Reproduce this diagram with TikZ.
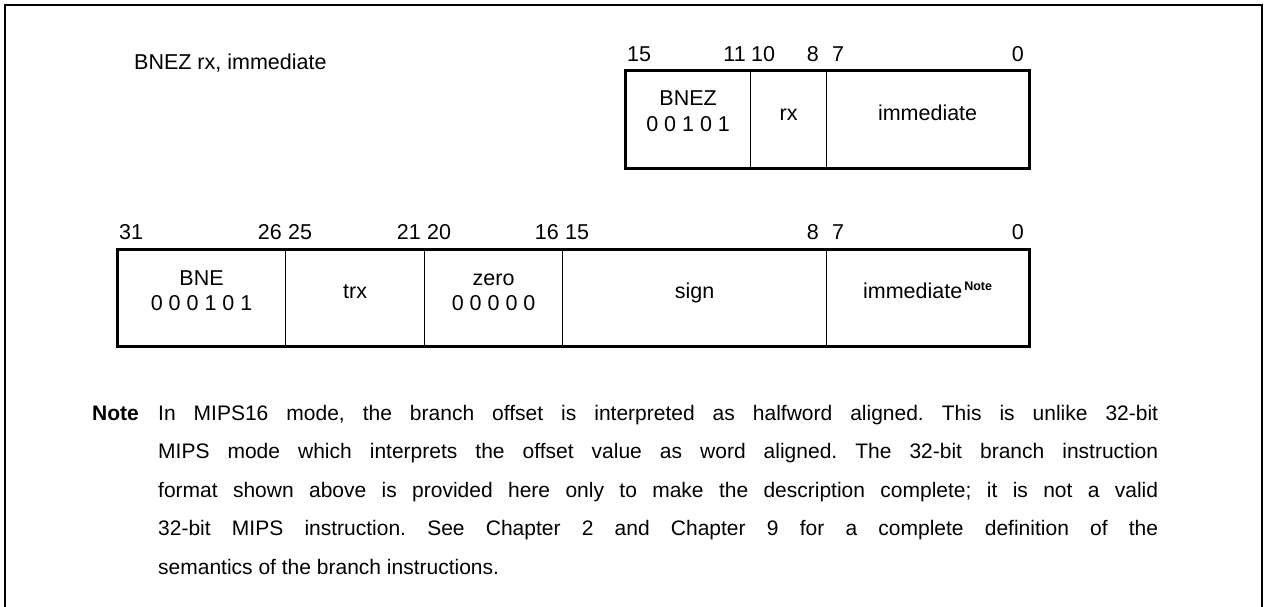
\documentclass[tikz,border=0pt]{standalone}
\usepackage{fontspec}
\setmainfont{Liberation Sans}
\begin{document}
\frenchspacing
\begin{tikzpicture}[x=1pt,y=-1pt,
  txt/.style={inner sep=0pt, font=\fontsize{21.5}{24}\selectfont},
  para/.style={inner sep=0pt, font=\fontsize{21}{24}\selectfont},
  fieldbox/.style={draw, line width=1.2pt, minimum height=96pt, inner sep=0pt, anchor=north west},
  outer/.style={line width=3pt},
  frame/.style={line width=2.5pt}]
\useasboundingbox (0,0) rectangle (1264,607);
% frame
\coordinate (fbl) at (5,610);
\coordinate (ftl) at (5,5);
\coordinate (ftr) at (1262,5);
\coordinate (fbr) at (1262,610);
\draw[frame] (fbl) -- (ftl) -- (ftr) -- (fbr);

% title
\node[txt, anchor=base west] (title) at (134,70) {BNEZ rx, immediate};

% 16-bit format
\node[fieldbox, minimum width=125pt] (t1) at (625,71) {};
\node[fieldbox, minimum width=76pt] (t2) at (750,71) {};
\node[fieldbox, minimum width=202pt] (t3) at (826,71) {};
\draw[outer] (t1.north west) rectangle (t3.south east);
\node[txt, anchor=base] (t1a) at ([yshift=-35pt]t1.north) {BNEZ};
\node[txt, anchor=base] (t1b) at ([yshift=-61pt]t1.north) {0 0 1 0 1};
\node[txt, anchor=base] (t2a) at ([yshift=-50pt]t2.north) {rx};
\node[txt, anchor=base] (t3a) at ([yshift=-50pt]t3.north) {immediate};

% bit numbers 16
\node[txt, anchor=base west] (b15) at (627,62) {15};
\node[txt, anchor=base east] (b11) at (746,62) {11};
\node[txt, anchor=base west] (b10) at (751,62) {10};
\node[txt, anchor=base east] (b8) at (819,62) {8};
\node[txt, anchor=base west] (b7) at (832,62) {7};
\node[txt, anchor=base east] (b0) at (1024,62) {0};

% 32-bit format
\node[fieldbox, minimum width=168pt] (w1) at (117,249) {};
\node[fieldbox, minimum width=139pt] (w2) at (285,249) {};
\node[fieldbox, minimum width=138pt] (w3) at (424,249) {};
\node[fieldbox, minimum width=264pt] (w4) at (562,249) {};
\node[fieldbox, minimum width=202pt] (w5) at (826,249) {};
\draw[outer] (w1.north west) rectangle (w5.south east);
\node[txt, anchor=base] (w1a) at ([yshift=-36pt]w1.north) {BNE};
\node[txt, anchor=base] (w1b) at ([yshift=-61pt]w1.north) {0 0 0 1 0 1};
\node[txt, anchor=base] (w2a) at ([yshift=-49pt]w2.north) {trx};
\node[txt, anchor=base] (w3a) at ([yshift=-36pt]w3.north) {zero};
\node[txt, anchor=base] (w3b) at ([yshift=-61pt]w3.north) {0 0 0 0 0};
\node[txt, anchor=base] (w4a) at ([yshift=-49pt]w4.north) {sign};
\node[txt, anchor=base] (w5a) at ([yshift=-49pt]w5.north) {immediate\kern2pt\raisebox{8pt}{\fontsize{12.5}{12}\selectfont\bfseries Note}};

% bit numbers 32
\node[txt, anchor=base west] (c31) at (119,239) {31};
\node[txt, anchor=base east] (c26) at (282,239) {26};
\node[txt, anchor=base west] (c25) at (288,239) {25};
\node[txt, anchor=base east] (c21) at (421,239) {21};
\node[txt, anchor=base west] (c20) at (427,239) {20};
\node[txt, anchor=base east] (c16) at (559,239) {16};
\node[txt, anchor=base west] (c15) at (565,239) {15};
\node[txt, anchor=base east] (c8) at (819,239) {8};
\node[txt, anchor=base west] (c7) at (832,239) {7};
\node[txt, anchor=base east] (c0) at (1024,239) {0};

% note
\node[para, anchor=base west, font=\fontsize{21}{24}\selectfont\bfseries] (note) at (92,420) {Note};
\node[para, anchor=base west] (n1) at (158,420) {\makebox[1000pt][s]{In MIPS16 mode, the branch offset is interpreted as halfword aligned. This is unlike 32-bit}};
\node[para, anchor=base west] (n2) at (158,458.5) {\makebox[1000pt][s]{MIPS mode which interprets the offset value as word aligned. The 32-bit branch instruction}};
\node[para, anchor=base west] (n3) at (158,497) {\makebox[1000pt][s]{format shown above is provided here only to make the description complete; it is not a valid}};
\node[para, anchor=base west] (n4) at (158,535.5) {\makebox[1000pt][s]{32-bit MIPS instruction. See Chapter 2 and Chapter 9 for a complete definition of the}};
\node[para, anchor=base west] (n5) at (158,574) {semantics of the branch instructions.};
\end{tikzpicture}
\end{document}
